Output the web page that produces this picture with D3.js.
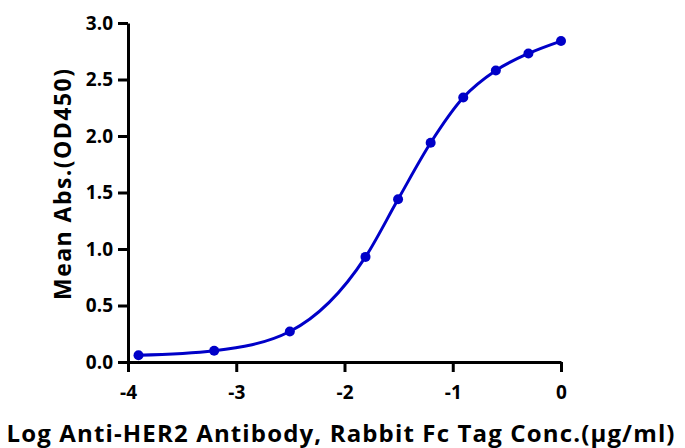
<!DOCTYPE html>
<html>
<head>
<meta charset="utf-8">
<script src="https://cdn.jsdelivr.net/npm/d3@7"></script>
<style>
  body { margin: 0; background: #fff; }
</style>
</head>
<body>
<div class="chart"></div>
<script>
// log concentration and mean OD450
const logConc = [-3.903, -3.204, -2.505, -1.806, -1.505, -1.204, -0.903, -0.602, -0.301, 0];
const od450 = [0.06, 0.10, 0.27, 0.93, 1.44, 1.94, 2.34, 2.58, 2.73, 2.84];
const xTicks = [-4, -3, -2, -1, 0];
const yTicks = [0, 0.5, 1.0, 1.5, 2.0, 2.5, 3.0];

let width = 685, height = 448;
let margin = {top: 23, right: 124, bottom: 86, left: 128};
let w = width - margin.left - margin.right;
let h = height - margin.top - margin.bottom;
const font = "'Open Sans', sans-serif";

var svg = d3.select(".chart")
  .append("svg")
    .attr("width", width)
    .attr("height", height)
  .append("g")
    .attr("transform", "translate(" + margin.left + "," + margin.top + ")");

let x = d3.scaleLinear().domain([-4, 0]).range([0, w]);
let y = d3.scaleLinear().domain([0, 3]).range([h, 0]);

let xAxis = svg.append("g")
    .attr("transform", "translate(0," + h + ")")
    .call(d3.axisBottom(x).tickValues(xTicks).tickFormat(d => String(d)).tickSize(10).tickPadding(14).tickSizeOuter(0));
let yAxis = svg.append("g")
    .call(d3.axisLeft(y).tickValues(yTicks).tickFormat(d3.format(".1f")).tickSize(10).tickPadding(5).tickSizeOuter(0));

[xAxis, yAxis].forEach(a => {
  a.attr("font-family", null).attr("font-size", null);
  a.select(".domain").attr("stroke", "#000").attr("stroke-width", 3);
  a.selectAll(".tick line").attr("stroke", "#000").attr("stroke-width", 3);
  a.selectAll(".tick text")
    .attr("fill", "#000")
    .style("font-family", font)
    .style("font-weight", "700")
    .style("font-size", "19px");
});

svg.append("path")
  .datum(logConc)
  .attr("fill", "none")
  .attr("stroke", "#0000c8")
  .attr("stroke-width", 3)
  .attr("d", d3.line()
    .x(d => x(d))
    .y((d, i) => y(od450[i]))
    .curve(d3.curveMonotoneX));

svg.selectAll(".pt")
  .data(logConc)
  .enter()
  .append("circle")
    .attr("class", "pt")
    .attr("cx", d => x(d))
    .attr("cy", (d, i) => y(od450[i]))
    .attr("r", 5)
    .attr("fill", "#0000c8");

svg.append("text")
  .attr("x", w / 2 - 4)
  .attr("y", h + 80)
  .attr("text-anchor", "middle")
  .attr("textLength", 668)
  .attr("lengthAdjust", "spacing")
  .style("font-family", font)
  .style("font-weight", "700")
  .style("font-size", "24px")
  .text("Log Anti-HER2 Antibody, Rabbit Fc Tag Conc.(μg/ml)");

svg.append("text")
  .attr("transform", "translate(-57," + (h / 2 - 8) + ") rotate(-90)")
  .attr("text-anchor", "middle")
  .attr("textLength", 231)
  .attr("lengthAdjust", "spacing")
  .style("font-family", font)
  .style("font-weight", "700")
  .style("font-size", "23px")
  .text("Mean Abs.(OD450)");
</script>
</body>
</html>
